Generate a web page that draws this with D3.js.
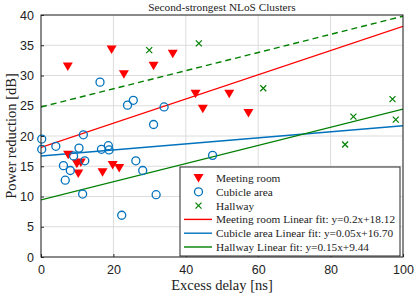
<!DOCTYPE html>
<html>
<head>
<meta charset="utf-8">
<script src="https://cdn.jsdelivr.net/npm/d3@7"></script>
<style>
  body { margin: 0; background: #fff; }
  svg { display: block; font-family: "Liberation Serif", "Times New Roman", serif; }
  .grid line { stroke: #dcdcdc; stroke-width: 1; }
  .axis text { font-size: 12.5px; fill: #222; }
</style>
</head>
<body>
<div id="chart"></div>
<script>
// data
var meetingX = [7.4, 19.5, 22.9, 31.1, 36.4, 42.7, 44.7, 52.0, 57.3, 7.5, 9.9, 11.0, 10.3, 17.0, 19.8, 21.6];
var meetingY = [31.5, 34.3, 30.2, 31.6, 33.6, 27.0, 24.5, 27.0, 23.8, 16.9, 15.4, 15.6, 13.8, 14.0, 15.2, 14.7];

var cubicleX = [0.2, 0.2, 4.1, 6.2, 6.7, 8.1, 9.0, 10.5, 11.7, 12.1, 11.5, 16.3, 16.7, 18.6, 18.8, 23.9, 25.5, 22.3, 26.2, 28.1, 31.1, 31.8, 34.0, 47.4];
var cubicleY = [19.5, 17.8, 18.3, 15.1, 12.7, 14.3, 16.7, 18.0, 20.2, 15.9, 10.4, 28.9, 17.8, 18.4, 17.7, 25.1, 25.9, 6.9, 15.9, 14.3, 21.9, 10.3, 24.8, 16.8];

var hallwayX = [29.9, 43.6, 61.4, 86.3, 97.1, 98.0, 84.0];
var hallwayY = [34.2, 35.3, 27.9, 23.2, 26.1, 22.7, 18.6];

// linear fits [slope, intercept]
var meetingFit = [0.2, 18.12];
var cubicleFit = [0.05, 16.70];
var hallwayFit = [0.15, 9.44];
var hallwayUpper = [0.15, 24.8];

var xTicks = [0, 20, 40, 60, 80, 100];
var yTicks = [0, 5, 10, 15, 20, 25, 30, 35, 40];

var legendLabels = ["Meeting room", "Cubicle area", "Hallway",
  "Meeting room Linear fit: y=0.2x+18.12",
  "Cubicle area Linear fit: y=0.05x+16.70",
  "Hallway Linear fit: y=0.15x+9.44"];

var red = "#ff0000", blue = "#0072bd", green = "#008000";

var width = 415, height = 297;
var margin = {left: 41, right: 12, top: 15, bottom: 40};

var svg = d3.select("#chart").append("svg")
  .attr("width", width).attr("height", height);

var x = d3.scaleLinear().domain([0, 100]).range([margin.left, width - margin.right]);
var y = d3.scaleLinear().domain([0, 40]).range([height - margin.bottom, margin.top]);

// grid
var grid = svg.append("g").attr("class", "grid");
grid.selectAll(".gx").data(xTicks).enter().append("line")
  .attr("x1", d => x(d)).attr("x2", d => x(d))
  .attr("y1", y(0)).attr("y2", y(40));
grid.selectAll(".gy").data(yTicks).enter().append("line")
  .attr("y1", d => y(d)).attr("y2", d => y(d))
  .attr("x1", x(0)).attr("x2", x(100));

// axes, ticks inward
var xAxis = svg.append("g").attr("class", "axis")
  .attr("transform", "translate(0," + y(0) + ")")
  .call(d3.axisBottom(x).tickValues(xTicks).tickSizeInner(-3).tickSizeOuter(0).tickPadding(8));
var yAxis = svg.append("g").attr("class", "axis")
  .attr("transform", "translate(" + x(0) + ",0)")
  .call(d3.axisLeft(y).tickValues(yTicks).tickSizeInner(-3).tickSizeOuter(0).tickPadding(7));
svg.selectAll(".axis .domain").remove();
svg.selectAll(".axis line").attr("stroke", "#262626");

var plot = svg.append("g");
plot.append("clipPath").attr("id", "clip").append("rect")
  .attr("x", x(0)).attr("y", y(40)).attr("width", x(100) - x(0)).attr("height", y(0) - y(40));

// fit lines
var fits = [
  {c: hallwayUpper, color: green, dash: "6,4"},
  {c: meetingFit, color: red, dash: null},
  {c: cubicleFit, color: blue, dash: null},
  {c: hallwayFit, color: green, dash: null}
];
var line = d3.line().x(d => x(d[0])).y(d => y(d[1]));
plot.selectAll(".fit").data(fits).enter().append("path")
  .attr("class", "fit")
  .attr("clip-path", "url(#clip)")
  .attr("d", f => line([[0, f.c[1]], [100, f.c[0] * 100 + f.c[1]]]))
  .attr("fill", "none")
  .attr("stroke", f => f.color)
  .attr("stroke-width", 1.4)
  .attr("stroke-dasharray", f => f.dash);

// markers
function triPath(s) {
  return "M" + (-s) + "," + (-s * 0.8) + "L" + s + "," + (-s * 0.8) + "L0," + (s * 0.9) + "Z";
}
function crossPath(s) {
  return "M" + (-s) + "," + (-s) + "L" + s + "," + s + "M" + (-s) + "," + s + "L" + s + "," + (-s);
}

plot.selectAll(".mr").data(d3.range(meetingX.length)).enter().append("path")
  .attr("transform", i => "translate(" + x(meetingX[i]) + "," + y(meetingY[i]) + ")")
  .attr("d", triPath(5)).attr("fill", red);

plot.selectAll(".ca").data(d3.range(cubicleX.length)).enter().append("circle")
  .attr("cx", i => x(cubicleX[i])).attr("cy", i => y(cubicleY[i]))
  .attr("r", 4).attr("fill", "none").attr("stroke", blue).attr("stroke-width", 1.3);

plot.selectAll(".hw").data(d3.range(hallwayX.length)).enter().append("path")
  .attr("transform", i => "translate(" + x(hallwayX[i]) + "," + y(hallwayY[i]) + ")")
  .attr("d", crossPath(3)).attr("stroke", green).attr("stroke-width", 1.2).attr("fill", "none");

// box
svg.append("rect")
  .attr("x", x(0)).attr("y", y(40)).attr("width", x(100) - x(0)).attr("height", y(0) - y(40))
  .attr("fill", "none").attr("stroke", "#262626").attr("stroke-width", 1);

// legend
var lg = svg.append("g").attr("transform", "translate(180,167)");
lg.append("rect").attr("width", 220).attr("height", 89)
  .attr("fill", "#fff").attr("stroke", "#262626").attr("stroke-width", 1);
var rowY = i => 11 + i * 13.8;
lg.append("path").attr("transform", "translate(18.5," + rowY(0) + ")").attr("d", triPath(5)).attr("fill", red);
lg.append("circle").attr("cx", 18.5).attr("cy", rowY(1)).attr("r", 4)
  .attr("fill", "none").attr("stroke", blue).attr("stroke-width", 1.3);
lg.append("path").attr("transform", "translate(18.5," + rowY(2) + ")").attr("d", crossPath(3))
  .attr("stroke", green).attr("stroke-width", 1.2);
[red, blue, green].forEach(function (c, i) {
  lg.append("line").attr("x1", 4).attr("x2", 32).attr("y1", rowY(i + 3)).attr("y2", rowY(i + 3))
    .attr("stroke", c).attr("stroke-width", 1.4);
});
lg.selectAll(".lt").data(legendLabels).enter().append("text")
  .attr("x", 36).attr("y", (d, i) => rowY(i)).attr("dy", "0.35em")
  .attr("font-size", 11.3).attr("fill", "#222").text(d => d);

// title and axis labels
svg.append("text").attr("x", (x(0) + x(100)) / 2).attr("y", 11)
  .attr("text-anchor", "middle").attr("font-size", 11.3).attr("fill", "#222")
  .text("Second-strongest NLoS Clusters");
svg.append("text").attr("x", (x(0) + x(100)) / 2).attr("y", 290)
  .attr("text-anchor", "middle").attr("font-size", 14.5).attr("fill", "#222")
  .text("Excess delay [ns]");
svg.append("text").attr("transform", "translate(16," + (y(20)) + ") rotate(-90)")
  .attr("text-anchor", "middle").attr("font-size", 14.5).attr("fill", "#222")
  .text("Power reduction [dB]");
</script>
</body>
</html>
